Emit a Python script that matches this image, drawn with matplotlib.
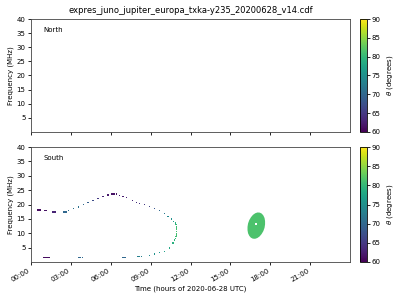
import numpy as np
import matplotlib
matplotlib.use("Agg")
import matplotlib.pyplot as plt
from matplotlib import cm, colors as mcolors

# south-hemisphere emission (hours UT, MHz, degrees)
curve_t = [0.47, 0.57, 0.67, 1.05, 1.12, 1.18, 1.6, 1.7, 1.8,
           2.43, 2.55, 2.68, 2.8, 3.18, 3.55, 3.93, 4.3, 4.67, 5.05, 5.42, 5.8,
           6.05, 6.18, 6.3, 6.43, 6.68, 6.93, 7.18, 7.63, 7.93, 8.18, 8.55,
           8.93, 9.3, 9.68, 10.05, 10.3, 10.55, 10.73, 10.85,
           10.9, 10.93, 10.95, 10.96, 10.96, 10.95, 10.93, 10.9, 10.85, 10.8,
           10.68, 10.43, 10.05, 9.68, 9.3, 8.93, 8.05, 8.18, 8.3,
           6.93, 7.03, 7.13, 3.6, 3.74, 3.88, 0.98, 1.08, 1.18, 1.28, 1.37]
curve_f = [18.1, 18.1, 18.1, 17.8, 17.8, 17.8, 17.4, 17.4, 17.4,
           17.4, 17.4, 17.4, 17.8, 18.5, 19.1, 19.9, 20.6, 21.5, 22.2, 22.8, 23.3,
           23.7, 23.7, 23.7, 23.7, 23.2, 22.8, 22.5, 21.3, 20.8, 20.4, 19.9,
           19.4, 18.7, 17.9, 16.8, 15.9, 15.0, 14.2, 13.6,
           13.0, 12.4, 11.8, 11.2, 10.6, 10.0, 9.4, 8.8, 8.2, 7.6,
           6.6, 4.9, 3.7, 3.2, 2.8, 2.3, 1.9, 1.9, 1.9,
           1.5, 1.5, 1.5, 1.5, 1.5, 1.5, 1.5, 1.5, 1.5, 1.5, 1.5]
curve_theta = [61, 61, 61, 61.5, 61.5, 61.5, 63, 63, 63,
               70, 70, 70, 71, 71, 71, 70, 69, 67, 65, 63, 62,
               61.5, 61.5, 61.5, 61.5, 62, 62.5, 63, 63.5, 64, 64.5, 65,
               66, 68, 70, 72, 74, 75, 77, 79,
               80, 80.5, 81, 81, 81, 81, 81, 80.5, 80, 79.5,
               79, 78, 77, 76, 75, 74, 73, 73, 73,
               70, 70, 70, 70, 70, 70, 61, 61, 61, 61, 61]

# outline of the second source near 17h
blob_t = [17.57, 17.61, 17.61, 17.57, 17.48, 17.36, 17.21, 17.04, 16.87, 16.70, 16.55, 16.42,
          16.33, 16.29, 16.29, 16.33, 16.42, 16.54, 16.69, 16.86, 17.03, 17.20, 17.35, 17.48]
blob_f = [11.89, 13.08, 14.25, 15.31, 16.19, 16.83, 17.18, 17.23, 16.96, 16.40, 15.58, 14.56,
          13.41, 12.22, 11.05, 9.99, 9.11, 8.47, 8.12, 8.07, 8.34, 8.90, 9.72, 10.74]
blob_theta = 81.5
hole_t, hole_f = 16.93, 13.3

hour_ticks = [0, 3, 6, 9, 12, 15, 18, 21]
hour_labels = ["00:00", "03:00", "06:00", "09:00", "12:00", "15:00", "18:00", "21:00"]
freq_ticks = [5, 10, 15, 20, 25, 30, 35, 40]
theta_ticks = [60, 65, 70, 75, 80, 85, 90]

norm = mcolors.Normalize(vmin=60, vmax=90)
cmap = plt.get_cmap("viridis")

fig = plt.figure(figsize=(4, 3), dpi=100)
W, H = 400, 300
ax_n = fig.add_axes([31 / W, 1 - 132 / H, 319 / W, 113 / H])
ax_s = fig.add_axes([31 / W, 1 - 262 / H, 319 / W, 115 / H])
cax_n = fig.add_axes([360 / W, 1 - 132 / H, 7 / W, 113 / H])
cax_s = fig.add_axes([360 / W, 1 - 262 / H, 7 / W, 115 / H])

fs = 5
for ax, name in [(ax_n, "North"), (ax_s, "South")]:
    ax.set_xlim(0, 24)
    ax.set_ylim(0, 40)
    ax.set_xticks(hour_ticks)
    ax.set_yticks(freq_ticks)
    ax.tick_params(labelsize=fs, length=2.5, width=0.6, pad=1.5)
    ax.set_ylabel("Frequency (MHz)", fontsize=fs, labelpad=2)
    ax.text(0.038, 0.9, name, transform=ax.transAxes, fontsize=fs, va="center")
    for s in ax.spines.values():
        s.set_linewidth(0.6)
        s.set_color("#444444")

ax_n.set_xticklabels([])
ax_n.set_title("expres_juno_jupiter_europa_txka-y235_20200628_v14.cdf", fontsize=6, pad=4)

ax_s.scatter(curve_t, curve_f, c=curve_theta, cmap=cmap, norm=norm,
             marker="s", s=0.9, linewidths=0)
ax_s.fill(blob_t, blob_f, color=cmap(norm(blob_theta)), lw=0)
ax_s.scatter([hole_t], [hole_f], color="white", marker="s", s=1.5, linewidths=0)
ax_s.set_xticklabels(hour_labels, rotation=30, ha="right")
ax_s.set_xlabel("Time (hours of 2020-06-28 UTC)", fontsize=fs, labelpad=2)

sm = cm.ScalarMappable(norm=norm, cmap=cmap)
for cax in [cax_n, cax_s]:
    cb = fig.colorbar(sm, cax=cax, ticks=theta_ticks)
    cb.ax.tick_params(labelsize=fs, length=2, width=0.6, pad=1.5)
    cb.outline.set_linewidth(0.6)
    cb.set_label(r"$\theta$ (degrees)", fontsize=fs, labelpad=3)

fig.savefig("out.png", dpi=100)
